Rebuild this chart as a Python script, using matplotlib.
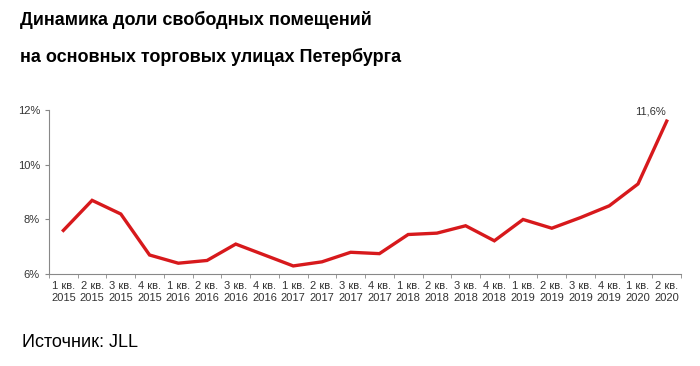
import matplotlib.pyplot as plt
import numpy as np

plt.rcParams['font.family'] = ['Liberation Sans', 'DejaVu Sans']

quarters = ["1 кв.", "2 кв.", "3 кв.", "4 кв."]
years = ["2015", "2016", "2017", "2018", "2019", "2020"]
labels = [q + "\n" + y for y in years for q in quarters][:22]
vacancy = [7.6, 8.7, 8.2, 6.7, 6.4, 6.5, 7.1, 6.7, 6.3, 6.45, 6.8, 6.75,
           7.45, 7.5, 7.77, 7.22, 8.0, 7.68, 8.07, 8.5, 9.3, 11.6]

fig = plt.figure(figsize=(7, 3.66), dpi=100)
ax = fig.add_axes([0.07, 0.251, 0.903, 0.448])

x = np.arange(len(vacancy))
ax.plot(x, vacancy, color="#d7191c", lw=2.4, solid_joinstyle="miter")
ax.annotate("11,6%", (x[-1], vacancy[-1]), xytext=(-1, 3), textcoords="offset points",
            ha="right", va="bottom", fontsize=8, color="#333333")

ax.set_xlim(-0.5, len(vacancy) - 0.5)
ax.set_ylim(6, 12)
ax.set_yticks([6, 8, 10, 12])
ax.set_yticklabels(["6%", "8%", "10%", "12%"])
ax.set_xticks(x)
ax.set_xticklabels(labels, linespacing=1.2)
ax.set_xticks(np.arange(-0.5, len(vacancy), 1), minor=True)
ax.tick_params(axis="x", which="major", length=0, labelsize=8, colors="#333333", pad=5)
ax.tick_params(axis="x", which="minor", length=3, color="#888888")
ax.tick_params(axis="y", length=3, color="#888888", labelsize=8, labelcolor="#333333")
for s in ["top", "right"]:
    ax.spines[s].set_visible(False)
for s in ["left", "bottom"]:
    ax.spines[s].set_color("#888888")
    ax.spines[s].set_linewidth(0.8)

fig.text(0.028, 0.945, "Динамика доли свободных помещений", fontsize=13, fontweight="bold", va="center")
fig.text(0.028, 0.843, "на основных торговых улицах Петербурга", fontsize=13, fontweight="bold", va="center")
fig.text(0.032, 0.063, "Источник: JLL", fontsize=13, va="center")

plt.savefig("out.png", dpi=100)
